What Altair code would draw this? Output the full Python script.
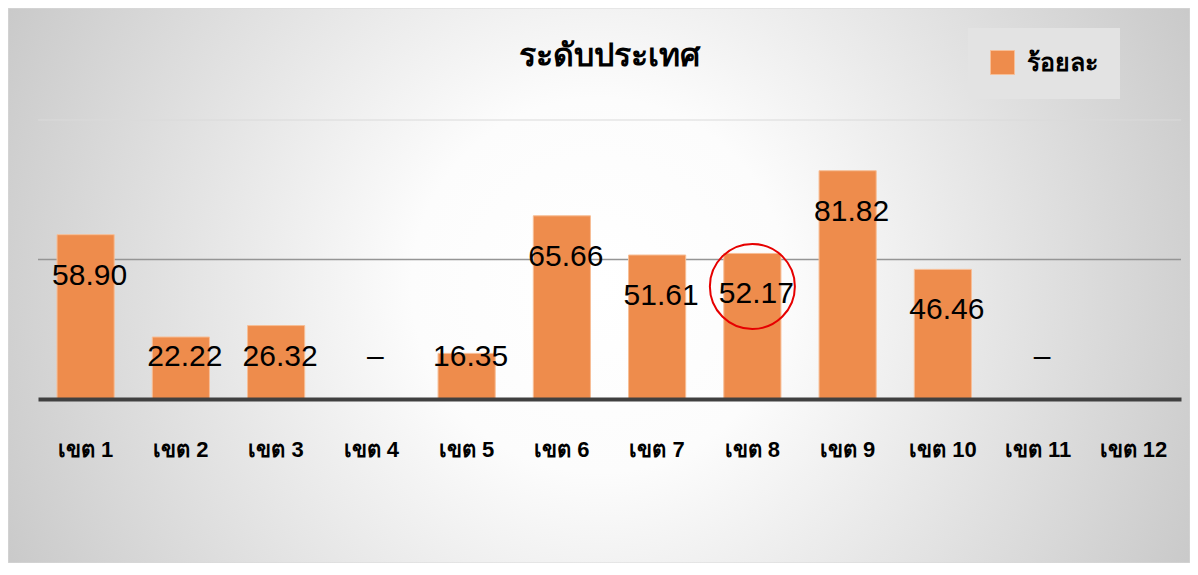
import altair as alt
import pandas as pd

# ---- data ----
districts = ["เขต 1", "เขต 2", "เขต 3", "เขต 4", "เขต 5", "เขต 6",
             "เขต 7", "เขต 8", "เขต 9", "เขต 10", "เขต 11", "เขต 12"]
values = [58.90, 22.22, 26.32, None, 16.35, 65.66,
          51.61, 52.17, 81.82, 46.46, None, None]
labels = ["58.90", "22.22", "26.32", "–", "16.35", "65.66",
          "51.61", "52.17", "81.82", "46.46", "–", ""]
series_name = "ร้อยละ"
title_text = "ระดับประเทศ"
highlight = "เขต 8"
grid_values = [50, 100]

df = pd.DataFrame({"district": districts, "value": values,
                   "label": labels, "series": series_name})

FONT = "Liberation Sans"
W, H = 1143, 279
PAD = {"left": 30, "top": 112, "right": 9, "bottom": 164}

x_enc = alt.X("district:N", sort=districts,
              scale=alt.Scale(paddingInner=0.4, paddingOuter=0.2),
              axis=alt.Axis(title=None, labelAngle=0, labelFontSize=22,
                            labelFont=FONT, labelColor="#000000",
                            labelFontWeight="bold",
                            labelBaseline="middle", labelPadding=50,
                            ticks=False, tickSize=0, domainColor="#404040",
                            domainWidth=4, grid=False, zindex=1))
y_scale = alt.Scale(domain=[0, 100], nice=False)

background = alt.Chart(alt.Data(values=[{}])).mark_rect(
    fill={"gradient": "radial", "x1": 0.5, "y1": 0.5, "r1": 0.0,
          "x2": 0.5, "y2": 0.5, "r2": 0.72,
          "stops": [{"offset": 0.0, "color": "#ffffff"},
                    {"offset": 0.22, "color": "#fcfcfc"},
                    {"offset": 1.0, "color": "#b4b4b4"}]},
    stroke="#d9d9d9", strokeWidth=1
).encode(
    x=alt.value(-PAD["left"]), x2=alt.value(W + PAD["right"]),
    y=alt.value(-PAD["top"]), y2=alt.value(H + PAD["bottom"])
)

grid = alt.Chart(pd.DataFrame({"g": grid_values})).mark_rule().encode(
    y=alt.Y("g:Q", scale=y_scale, axis=None),
    color=alt.condition(alt.datum.g == 50, alt.value("#959595"), alt.value("#dadada")),
    strokeWidth=alt.condition(alt.datum.g == 50, alt.value(1.5), alt.value(1)),
)

bars = alt.Chart(df).mark_bar(stroke="#F7BE96", strokeWidth=1, opacity=1).encode(
    x=x_enc,
    y=alt.Y("value:Q", scale=y_scale, axis=None),
    color=alt.Color("series:N", scale=alt.Scale(range=["#EE8C4C"]),
                    legend=alt.Legend(title=None, orient="none",
                                      legendX=930, legendY=-92,
                                      fillColor="#e3e3e3", padding=22,
                                      symbolType="square", symbolSize=576,
                                      symbolStrokeColor="#F7BE96",
                                      symbolStrokeWidth=1, symbolOpacity=1,
                                      labelFontSize=25, labelFontWeight="bold",
                                      labelFont=FONT, labelColor="#000000",
                                      labelOffset=12)),
)

texts = alt.Chart(df).transform_calculate(
    label_y="max(isValid(datum.value) ? datum.value : 0, 29.8)"
).mark_text(dy=41, dx=4, baseline="middle", align="center", fontSize=30,
            font=FONT, color="#000000").encode(
    x=alt.X("district:N", sort=districts),
    y=alt.Y("label_y:Q", scale=y_scale),
    text="label:N",
)

circle = alt.Chart(df).transform_filter(
    alt.datum.district == highlight
).mark_point(shape="circle", filled=False, size=7225, color="#E60000",
             strokeWidth=2, opacity=1, yOffset=33).encode(
    x=alt.X("district:N", sort=districts),
    y=alt.Y("value:Q", scale=y_scale),
)

title = alt.Chart(alt.Data(values=[{"t": title_text}])).mark_text(
    fontSize=32, fontWeight="bold", font=FONT, color="#000000",
    align="center", baseline="alphabetic"
).encode(text="t:N", x=alt.value(W / 2), y=alt.value(-54))

chart = alt.layer(background, grid, bars, texts, circle, title).properties(
    width=W, height=H, padding=PAD, autosize="none",
).configure_view(stroke=None)

chart.save("out.html", embed_options={"renderer": "svg", "actions": False})
